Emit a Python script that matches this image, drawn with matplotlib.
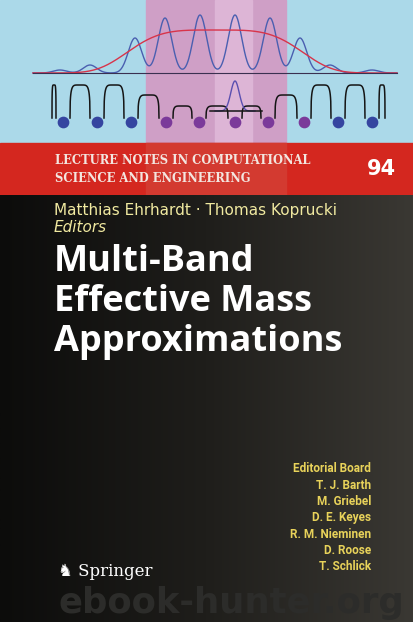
import numpy as np
import matplotlib.pyplot as plt
from matplotlib.colors import LinearSegmentedColormap

# blue wave peaks (x position, height in px above baseline)
peak_x = [60, 90, 135, 165, 200, 235, 270, 300, 330, 372]
peak_h = [3, 8, 35, 55, 58, 58, 55, 35, 8, 3]
# red envelope
env_center = 215
env_height = 43
# lattice sites
site_x = [63, 97, 131, 166, 199, 235, 268, 304, 338, 372]
site_inner = [False, False, False, True, True, True, True, True, False, False]
# top of each well arch between sites (px)
arch_top = [85, 85, 85, 95, 106, 106, 106, 95, 85, 85, 85]

series_line1 = "Matthias Ehrhardt · Thomas Koprucki"
title_lines = ["Multi-Band", "Effective Mass", "Approximations"]
board = ["Editorial Board", "T. J. Barth", "M. Griebel", "D. E. Keyes",
         "R. M. Nieminen", "D. Roose", "T. Schlick"]

fig = plt.figure(figsize=(4.13, 6.22), dpi=100)
ax = fig.add_axes([0, 0, 1, 1])
ax.set_xlim(0, 413)
ax.set_ylim(622, 0)
ax.axis('off')

# backgrounds
ax.add_patch(plt.Rectangle((0, 0), 413, 143, color='#abd9e9', zorder=0))
ax.add_patch(plt.Rectangle((146, 0), 140, 143, color='#cf9fc6', zorder=1))
ax.add_patch(plt.Rectangle((215, 0), 37, 143, color='#ddb5d6', zorder=1))
ax.add_patch(plt.Rectangle((0, 143), 413, 52, color='#d4271f', zorder=1))
ax.add_patch(plt.Rectangle((146, 143), 140, 52, color='#d33a30', zorder=1))
grad = np.linspace(0, 1, 256).reshape(1, -1)
cmap = LinearSegmentedColormap.from_list('bg', ['#0c0c0b', '#1f1e1b', '#3a3833'])
ax.imshow(grad, extent=(0, 413, 622, 195), cmap=cmap, aspect='auto', zorder=1)

# waves
xs = np.linspace(33, 397, 800)
wave = np.zeros_like(xs)
for px, ph in zip(peak_x, peak_h):
    wave += ph * np.exp(-((xs - px) / 9.5) ** 2)
ax.plot(xs, 73 - wave, color='#4a5fb0', lw=1, zorder=3)
env = env_height * np.exp(-((xs - env_center) / 95.0) ** 4)
ax.plot(xs, 73 - env, color='#d8344a', lw=1, zorder=3)
ax.plot([33, 397], [73, 73], color='#3a3050', lw=0.8, zorder=3)

# potential wells: rounded arches between sites
edges = [45] + site_x + [392]
for i in range(len(edges) - 1):
    a, b = edges[i] + 7, edges[i + 1] - 7
    top = arch_top[i]
    t = np.linspace(-1, 1, 80)
    y = 118 - (118 - top) * np.clip(1 - np.abs(t) ** 6, 0, 1) ** 0.35
    ax.plot((a + b) / 2 + (b - a) / 2 * t, y, color='#151515', lw=1.1, zorder=3)
gx = np.linspace(215, 255, 100)
ax.plot(gx, 111 - 30 * np.exp(-((gx - 235) / 6) ** 2), color='#5a4fb0', lw=1, zorder=3)
ax.plot([210, 262], [111, 111], color='#151515', lw=1.1, zorder=3)
for sx, inner in zip(site_x, site_inner):
    ax.scatter(sx, 122, s=55, color='#7b3a9a' if inner else '#3545a0', zorder=4)

# series band text
ax.text(55, 160, "LECTURE NOTES IN COMPUTATIONAL", color='#f3e6e0', fontsize=8.3,
        family='DejaVu Serif', weight='bold', va='center')
ax.text(55, 179, "SCIENCE AND ENGINEERING", color='#f3e6e0', fontsize=8.3,
        family='DejaVu Serif', weight='bold', va='center')
ax.text(367, 169, "94", color='white', fontsize=15, weight='bold', va='center')

ax.text(54, 210, series_line1, color='#f0e9a0', fontsize=11, va='center')
ax.text(54, 228, "Editors", color='#f0e9a0', fontsize=11, style='italic', va='center')
for k, line in enumerate(title_lines):
    ax.text(54, 262 + 40 * k, line, color='white', fontsize=26, weight='bold',
            va='center', family='Open Sans')

for k, name in enumerate(board):
    ax.text(371, 469 + 16.3 * k, name, color='#e8d25a', fontsize=8.5, ha='right',
            va='center', weight='bold', family='Roboto', stretch='condensed')

ax.text(58, 571, "\u265e Springer", color='white', fontsize=12, va='center',
        family=['DejaVu Serif', 'DejaVu Sans'])
ax.text(58, 603, "ebook-hunter.org", color='#2c2c2a', fontsize=25.5, va='center',
        weight='bold', family='DejaVu Sans')

fig.savefig('out.png', dpi=100)
